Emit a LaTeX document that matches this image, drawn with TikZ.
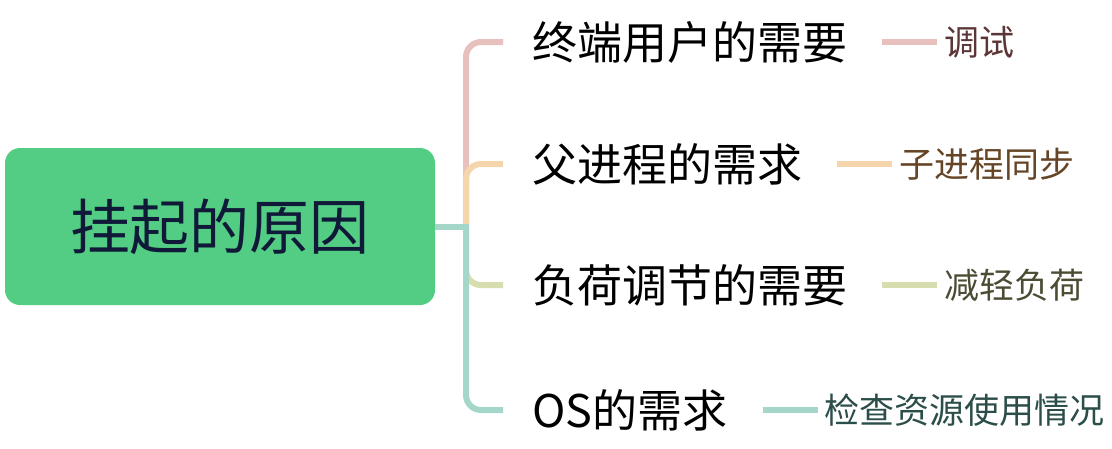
\documentclass[tikz,border=0pt]{standalone}
\usepackage{fontspec}
\setmainfont{Noto Sans CJK SC}
\usepackage{tikz}
\usetikzlibrary{positioning}
\usepackage{xcolor}
\definecolor{RootGreen}{HTML}{52CD83}
\definecolor{RootInk}{HTML}{101A38}
\definecolor{BranchPink}{HTML}{E8C0BE}
\definecolor{BranchOrange}{HTML}{F4D5AC}
\definecolor{BranchOlive}{HTML}{D8DDB0}
\definecolor{BranchTeal}{HTML}{A5D6CA}
\definecolor{LeafPink}{HTML}{5C3636}
\definecolor{LeafOrange}{HTML}{654526}
\definecolor{LeafOlive}{HTML}{4C4C34}
\definecolor{LeafTeal}{HTML}{2C4E4A}

\begin{document}
\begin{tikzpicture}[x=1pt,y=-1pt,
  rootbox/.style={fill=RootGreen,rounded corners=15pt,minimum width=430pt,minimum height=157pt,
    text=RootInk,font=\fontsize{60}{70}\selectfont},
  branch/.style={anchor=west,inner sep=0pt,font=\fontsize{45}{54}\selectfont},
  leaf/.style={inner sep=0pt,font=\fontsize{35}{42}\selectfont},
  link/.style={line width=6pt}]
  \useasboundingbox (0,0) rectangle (1112,448);
  \node[rootbox] (root) at (220,226.5) {挂起的原因};
  \coordinate (jn) at (466,226.5);
  \foreach \i/\yy/\cc/\lbl/\sub in {1/42/Pink/终端用户的需要/调试,
      2/164/Orange/父进程的需求/子进程同步,
      3/285/Olive/负荷调节的需要/减轻负荷,
      4/410/Teal/OS的需求/检查资源使用情况}{
    \node[branch] (b\i) at (532,\yy) {\lbl};
    \node[leaf,text=Leaf\cc,right=97pt of b\i] (c\i) {\sub};
    \draw[link,Branch\cc,rounded corners=15pt,shorten >=29pt] (jn) |- (b\i.west);
    \draw[link,Branch\cc,shorten <=35pt,shorten >=7pt] (b\i.east) -- (c\i.west);
  }
  \draw[link,BranchTeal] (root.east) -- ([xshift=3pt]jn);
\end{tikzpicture}
\end{document}
